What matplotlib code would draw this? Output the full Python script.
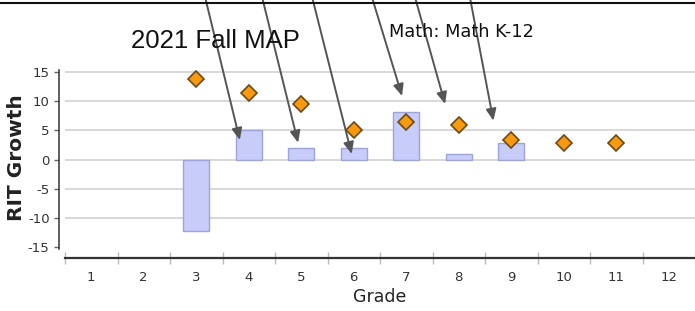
import matplotlib
matplotlib.use("Agg")
import matplotlib.pyplot as plt
from matplotlib.lines import Line2D

# ---- data ----
grades = list(range(1, 13))
grade_labels = [str(g) for g in grades]
bar_grades = [3, 4, 5, 6, 7, 8, 9]
bar_values = [-12.2, 5.0, 2.0, 2.0, 8.1, 1.0, 2.9]
diamond_grades = [3, 4, 5, 6, 7, 8, 9, 10, 11]
diamond_values = [13.7, 11.3, 9.4, 5.0, 6.45, 5.9, 3.4, 2.75, 2.75]
y_ticks = [-15, -10, -5, 0, 5, 10, 15]
title_text = "2021 Fall MAP"
subject_text = "Math: Math K-12"
y_label = "RIT Growth"
x_label = "Grade"
# annotation arrows: start x (figure fraction, at top edge) -> target (grade, value)
arrow_start_x = [0.295, 0.377, 0.449, 0.535, 0.597, 0.676]
arrow_tip_grade = [3.83, 4.94, 5.96, 6.92, 7.74, 8.66]
arrow_tip_value = [3.33, 2.87, 0.94, 10.84, 9.47, 6.62]

W, H = 695, 311
fig = plt.figure(figsize=(W / 100, H / 100), dpi=100)
ax = fig.add_axes([65 / W, (H - 258.3) / H, 630 / W, 198.3 / H])

ax.set_xlim(0.5, 12.5)
ax.set_ylim(-16.86, 16.98)

# grid
for t in y_ticks:
    if t != -15:
        ax.axhline(t, color="#d6d6d6", lw=1.3, zorder=0)

ax.bar(bar_grades, bar_values, width=0.5, color="#c8ccf8", edgecolor="#9ea3d8",
       linewidth=1.0, zorder=2)
ax.plot(diamond_grades, diamond_values, linestyle="none", marker="D", markersize=8.2,
        markerfacecolor="#f79a0e", markeredgecolor="#6b4a16", markeredgewidth=1.2, zorder=3)

# spines
for s in ["top", "right"]:
    ax.spines[s].set_visible(False)
ax.spines["left"].set_position(("outward", 4.5))
ax.spines["left"].set_bounds(-15.2, 15.2)
ax.spines["left"].set_color("#333333")
ax.spines["left"].set_linewidth(1.1)
ax.spines["bottom"].set_color("#333333")
ax.spines["bottom"].set_linewidth(1.6)

ax.set_yticks(y_ticks)
ax.set_yticklabels([str(t) for t in y_ticks])
ax.tick_params(axis="y", length=3.6, width=1, color="#666666", pad=3,
               labelsize=9.5, labelcolor="#333333")

ax.set_xticks(grades)
ax.set_xticklabels(grade_labels)
ax.set_xticks([g + 0.5 for g in [0] + grades], minor=True)
ax.tick_params(axis="x", which="major", length=0, pad=9, labelsize=9.5, labelcolor="#333333")
ax.tick_params(axis="x", which="minor", direction="inout", length=9, width=1, color="#bbbbbb")

# labels / titles
fig.text(17 / W, 1 - 157.5 / H, y_label, rotation=90, ha="center", va="center",
         fontsize=14.5, fontweight="bold", color="#222222", family="DejaVu Sans")
fig.text(380 / W, (H - 301.7) / H, x_label, ha="center", va="baseline",
         fontsize=12.5, color="#222222", family="DejaVu Sans")
fig.text(215 / W, (H - 48.3) / H, title_text, ha="center", va="baseline",
         fontsize=18.5, color="#111111", family="Liberation Sans")
fig.text(389 / W, (H - 37.3) / H, subject_text, ha="left", va="baseline",
         fontsize=12.8, color="#111111", family="DejaVu Sans")

# annotation arrows
for sx, gx, vy in zip(arrow_start_x, arrow_tip_grade, arrow_tip_value):
    ax.annotate("", xy=(gx, vy), xycoords="data",
                xytext=(sx, 1.01), textcoords="figure fraction",
                annotation_clip=False,
                arrowprops=dict(arrowstyle="-|>,head_length=0.5,head_width=0.22",
                                mutation_scale=14, color="#555555", lw=1.4,
                                shrinkA=0, shrinkB=0), zorder=5)

fig.add_artist(Line2D([0, 1], [1 - 3 / H, 1 - 3 / H], transform=fig.transFigure,
                      color="#111111", lw=1.5, zorder=10))

fig.savefig("out.png", dpi=100)
